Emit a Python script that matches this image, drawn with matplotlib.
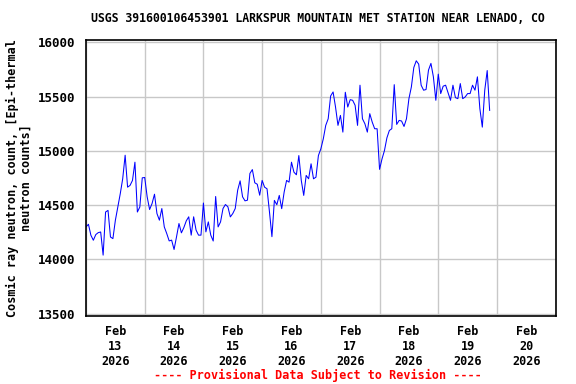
import numpy as np
import pandas as pd
import matplotlib
matplotlib.use('Agg')
import matplotlib.pyplot as plt
import matplotlib.dates as mdates

# hourly counts (Feb 13 00:00 onward)
day13 = [14300, 14324, 14223, 14177, 14229, 14247, 14253, 14040, 14437, 14452, 14207, 14192,
         14360, 14483, 14605, 14743, 14960, 14666, 14682, 14728, 14896, 14437, 14483, 14752]
day14 = [14755, 14577, 14460, 14515, 14601, 14423, 14362, 14469, 14300, 14239, 14171, 14178,
         14092, 14208, 14331, 14245, 14294, 14356, 14393, 14224, 14393, 14270, 14224, 14224]
day15 = [14520, 14254, 14346, 14224, 14170, 14580, 14300, 14346, 14469, 14506, 14485, 14392,
         14423, 14469, 14638, 14724, 14577, 14540, 14546, 14792, 14828, 14706, 14693, 14592]
day16 = [14728, 14666, 14651, 14437, 14210, 14544, 14504, 14590, 14468, 14621, 14728, 14712,
         14896, 14804, 14780, 14957, 14728, 14590, 14774, 14743, 14881, 14743, 14758, 14957]
day17 = [15019, 15111, 15235, 15296, 15506, 15543, 15404, 15235, 15327, 15173, 15540, 15404,
         15472, 15466, 15420, 15235, 15605, 15296, 15250, 15173, 15343, 15265, 15204, 15204]
day18 = [14830, 14926, 15003, 15120, 15188, 15204, 15610, 15244, 15281, 15275, 15225, 15296,
         15481, 15589, 15768, 15830, 15799, 15605, 15559, 15565, 15744, 15806, 15682, 15466]
day19 = [15707, 15528, 15596, 15605, 15534, 15466, 15605, 15491, 15481, 15620, 15481, 15497,
         15528, 15528, 15605, 15559, 15682, 15389, 15219, 15559, 15740, 15373]

counts = day13 + day14 + day15 + day16 + day17 + day18 + day19
times = pd.date_range('2026-02-13 00:00', periods=len(counts), freq='h')

yticks = [13500, 14000, 14500, 15000, 15500, 16000]
title = 'USGS 391600106453901 LARKSPUR MOUNTAIN MET STATION NEAR LENADO, CO'
ylabel = 'Cosmic ray neutron, count, [Epi-thermal\nneutron counts]'
footer = '---- Provisional Data Subject to Revision ----'

mono = 'DejaVu Sans Mono'

fig = plt.figure(figsize=(5.76, 3.84), dpi=100)
ax = fig.add_axes([86/576, 1-315.7/384, 469.7/576, 276.2/384])

ax.plot(times, counts, color='#0000ff', lw=0.75)

ax.set_xlim(pd.Timestamp('2026-02-13'), pd.Timestamp('2026-02-21'))
ax.set_ylim(13482, 16026)
ax.set_yticks(yticks)
ax.set_yticklabels([str(v) for v in yticks], family=mono, weight='bold', fontsize=9)

# gridlines at midnight, labels at noon
ax.xaxis.set_major_locator(mdates.DayLocator())
ax.xaxis.set_major_formatter(plt.NullFormatter())
ax.xaxis.set_minor_locator(mdates.HourLocator(byhour=[12]))
ax.xaxis.set_minor_formatter(mdates.DateFormatter('%b\n%d\n%Y'))
for lab in ax.xaxis.get_minorticklabels():
    lab.set_family(mono)
    lab.set_weight('bold')
    lab.set_fontsize(8.5)
ax.tick_params(axis='both', which='both', length=0)
ax.tick_params(axis='x', which='minor', pad=7)
ax.tick_params(axis='y', pad=8)

ax.grid(True, which='major', color='#c8c8c8', lw=1)
ax.set_axisbelow(True)
for s in ax.spines.values():
    s.set_linewidth(1.2)
    s.set_color('black')

fig.text(318/576, 1-19/384, title, ha='center', va='center',
         family=mono, weight='bold', fontsize=8.3)
fig.text(19/576, 1-178/384, ylabel, ha='center', va='center', rotation=90,
         multialignment='center', family=mono, weight='bold', fontsize=8.5, linespacing=1.1)
fig.text(318/576, 1-375/384, footer, ha='center', va='center',
         family=mono, weight='bold', fontsize=8.5, color='#ff0000')

fig.savefig('out.png', dpi=100)
